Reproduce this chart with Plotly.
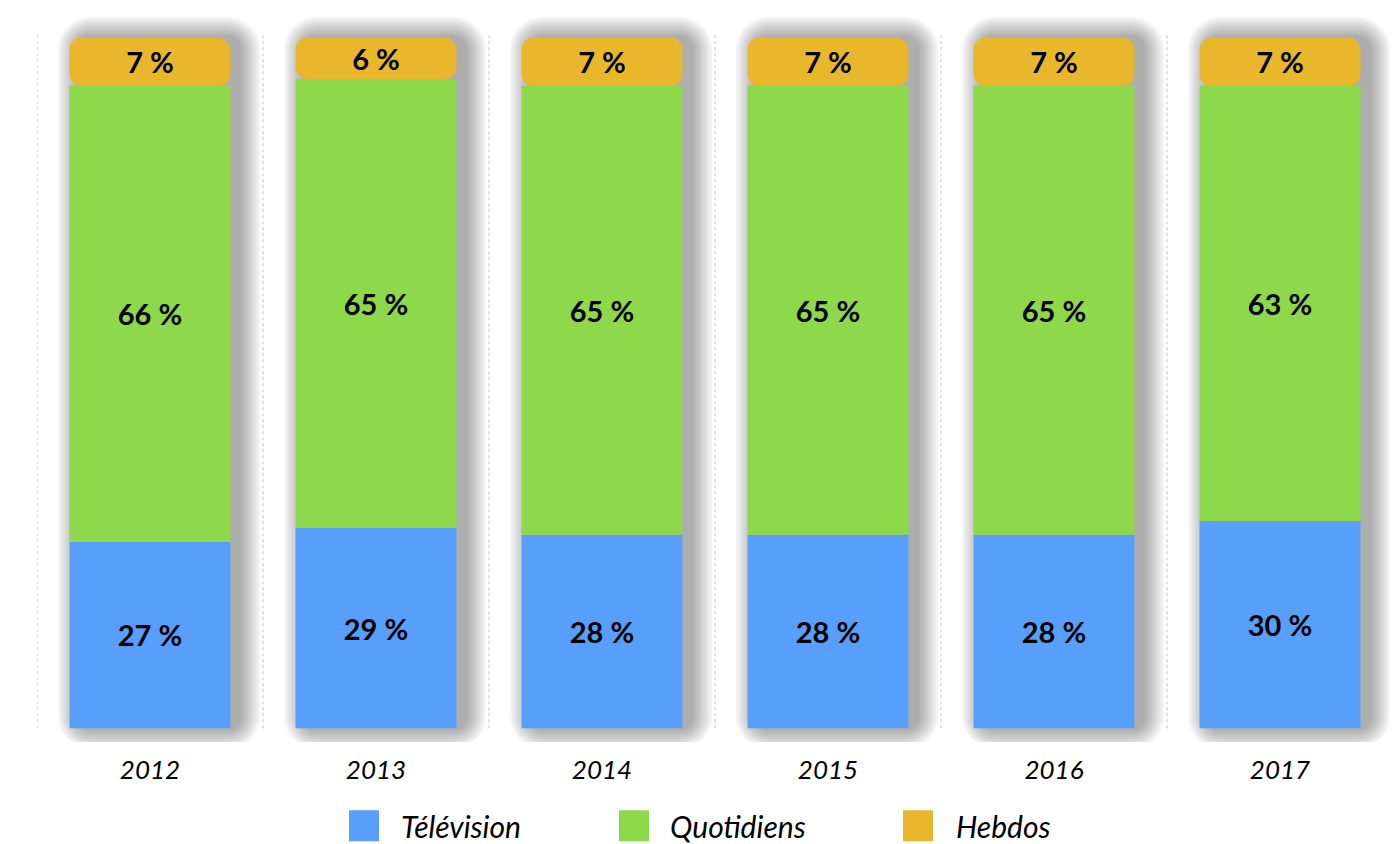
import plotly.graph_objects as go

years = ["2012", "2013", "2014", "2015", "2016", "2017"]
television = [27, 29, 28, 28, 28, 30]
quotidiens = [66, 65, 65, 65, 65, 63]
hebdos = [7, 6, 7, 7, 7, 7]

series = [
    ("Télévision", television, "#579FFB"),
    ("Quotidiens", quotidiens, "#8ED84B"),
    ("Hebdos", hebdos, "#E8B72C"),
]

# the page body adds a margin, so the figure is drawn slightly in from the corner
OFFX, OFFY = 6, 8
W, H = 1400 - 8, 844 - 8
# target plot area in screenshot pixels: x 35..1391, y(100%) 38 .. y(0%) 728
YMIN, YMAX = -2, 104
top_px, bot_px = 38 - OFFY, 728 - OFFY
ppu_y = (bot_px - top_px) / 100.0
MT = top_px - (YMAX - 100) * ppu_y
MB = H - (bot_px + (0 - YMIN) * ppu_y)
ML = 35 - OFFX
MR = W - (1391 - OFFX)
plot_w = W - ML - MR
plot_h = H - MT - MB
ppu_x = plot_w / len(years)

FONT = "Lato, 'Open Sans', sans-serif"
idx = list(range(len(years)))
bar_w = 0.712

fig = go.Figure()

# soft drop shadow behind each stacked bar (layers of faint grey)
n_layers = 9
step_px = 2.3
dx = 9 / ppu_x
total = [a + b + c for a, b, c in zip(television, quotidiens, hebdos)]
for k in range(n_layers, 0, -1):
    e = k * step_px
    ex = e / ppu_x
    ey = e / ppu_y
    w = bar_w + 2 * ex
    fig.add_trace(go.Bar(
        x=idx, y=[t + 2 * ey for t in total], base=[-ey] * len(idx),
        width=w, offset=-w / 2 + dx,
        marker=dict(color="rgba(0,0,0,0.04)", line=dict(width=0),
                    cornerradius=12 + e),
        hoverinfo="skip", showlegend=False,
    ))

base = [0] * len(years)
for name, vals, color in series:
    fig.add_trace(go.Bar(
        x=idx, y=vals, base=list(base), name=name, width=bar_w,
        marker=dict(color=color, line=dict(width=0),
                    cornerradius=12 if name == "Hebdos" else 0),
        text=[f"{v} %" for v in vals],
        textposition="inside", insidetextanchor="middle", textangle=0,
        constraintext="none",
        textfont=dict(family=FONT, size=29, color="black", weight="bold"),
        showlegend=False,
    ))
    base = [b + v for b, v in zip(base, vals)]

shapes = []
for i in range(len(years) + 1):
    shapes.append(dict(type="line", xref="x", yref="y", x0=i - 0.5, x1=i - 0.5,
                       y0=0, y1=100.4, layer="below",
                       line=dict(color="#c4c4c4", width=1, dash="dot")))

def pxx(p):
    return (p - OFFX - ML) / plot_w

def pxy(p):
    return (H - MB - (p - OFFY)) / plot_h

annotations = []
legend_sq = [347, 617, 901]
legend_tx = [397, 666, 952]
for (name, vals, color), sx, tx in zip(series, legend_sq, legend_tx):
    shapes.append(dict(type="rect", xref="paper", yref="paper",
                       x0=pxx(sx), x1=pxx(sx + 30), y0=pxy(841), y1=pxy(810),
                       fillcolor=color, line=dict(width=0)))
    annotations.append(dict(xref="paper", yref="paper", x=pxx(tx), y=pxy(826),
                            xanchor="left", yanchor="middle", showarrow=False,
                            text=name,
                            font=dict(family=FONT, size=30, color="black", style="italic")))

fig.update_layout(
    width=W, height=H,
    margin=dict(l=ML, r=MR, t=MT, b=MB, pad=0),
    barmode="overlay",
    plot_bgcolor="white", paper_bgcolor="white",
    showlegend=False,
    shapes=shapes, annotations=annotations,
    xaxis=dict(range=[-0.5, len(years) - 0.5], tickvals=idx, ticktext=years,
               showgrid=False, zeroline=False, showline=False, ticks="",
               ticklabelstandoff=10,
               tickfont=dict(family=FONT, size=26, color="black", style="italic")),
    yaxis=dict(range=[YMIN, YMAX], showgrid=False, zeroline=False,
               showticklabels=False, showline=False, ticks=""),
)

fig.write_html("out.html")
